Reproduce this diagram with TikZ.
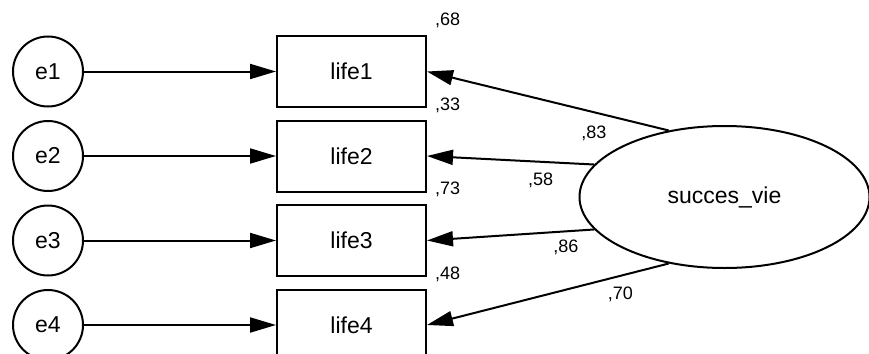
\documentclass[tikz,border=0pt]{standalone}
\usepackage{fontspec}
\setmainfont{Liberation Sans}
\usetikzlibrary{positioning,shapes,arrows.meta}

\begin{document}
\begin{tikzpicture}[x=1pt,y=-1pt,node distance=84.5pt,line width=2pt,
  every node/.style={font=\fontsize{23}{27}\selectfont},
  errnode/.style={circle,draw,minimum size=70pt,inner sep=0pt},
  obsbox/.style={rectangle,draw,minimum width=149pt,minimum height=71pt,inner sep=0pt},
  latent/.style={ellipse,draw,minimum width=290pt,minimum height=142pt,inner sep=0pt},
  lbl/.style={font=\fontsize{18}{21}\selectfont,inner sep=0pt}]
  \useasboundingbox (0,0) rectangle (869,353);

  \node[errnode] (e1) at (48,71.5) {e1};
  \node[errnode] (e2) [below of=e1] {e2};
  \node[errnode] (e3) [below of=e2] {e3};
  \node[errnode] (e4) [below of=e3] {e4};

  \node[obsbox] (l1) at (351.5,71.5) {life1};
  \node[obsbox] (l2) [below of=l1] {life2};
  \node[obsbox] (l3) [below of=l2] {life3};
  \node[obsbox] (l4) [below of=l3] {life4};

  \node[latent] (sv) at (724.5,197) {succes\_vie};

  % squared multiple correlations
  \node[lbl] (r1) [above right=6pt and 7pt of l1.north east] {,68};
  \node[lbl] (r2) [above right=6pt and 7pt of l2.north east] {,33};
  \node[lbl] (r3) [above right=6pt and 7pt of l3.north east] {,73};
  \node[lbl] (r4) [above right=6pt and 7pt of l4.north east] {,48};

  \path[->,>={Triangle[length=26pt,width=15pt]}]
    (e1) edge (l1)
    (e2) edge (l2)
    (e3) edge (l3)
    (e4) edge (l4)
    (sv.130) edge node[lbl,pos=0.31,below=13pt] {,83} (l1.east)
    (sv.166) edge node[lbl,pos=0.32,below=10pt] {,58} (l2.east)
    (sv.194) edge node[lbl,pos=0.17,below=8pt] {,86} (l3.east)
    (sv.230) edge node[lbl,pos=0.2,below=10pt] {,70} (l4.east);
\end{tikzpicture}
\end{document}
